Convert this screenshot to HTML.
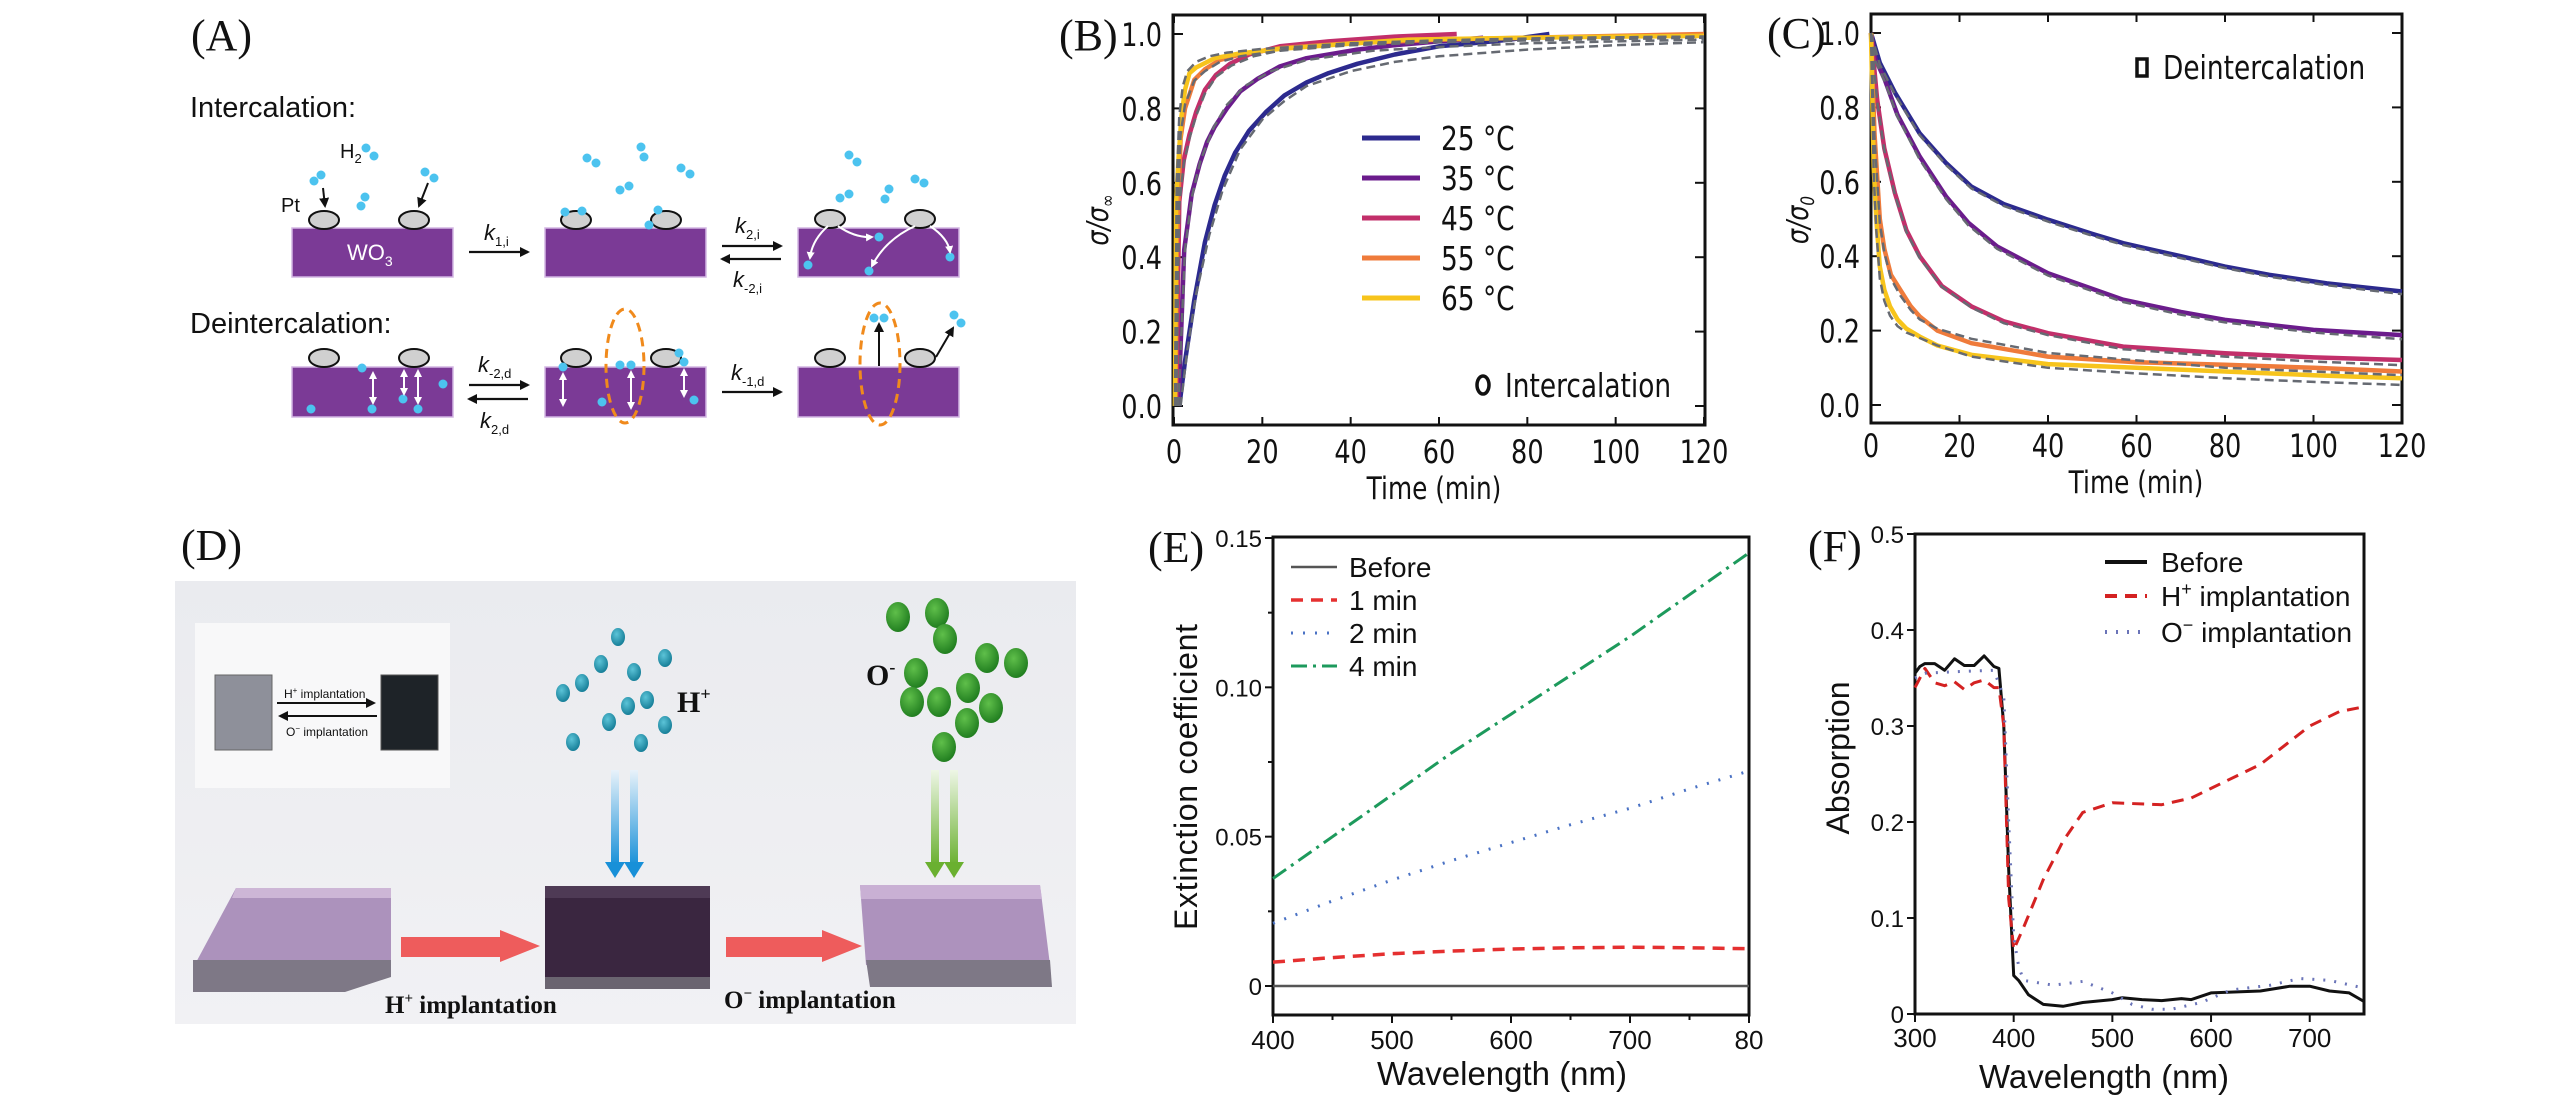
<!DOCTYPE html>
<html><head><meta charset="utf-8"><title>WO3 hydrogen intercalation figure</title>
<style>
html,body{margin:0;padding:0;background:#fff;}
svg{display:block;}
.lbl{font-family:"Liberation Serif",serif;font-size:44px;fill:#111;}
.sans{font-family:"Liberation Sans",sans-serif;}
.dv{font-family:"DejaVu Sans","Liberation Sans",sans-serif;}
</style></head>
<body>
<svg id="fig" width="2567" height="1102" viewBox="0 0 2567 1102" xmlns="http://www.w3.org/2000/svg">
<defs>
<linearGradient id="dbg" x1="0" y1="0" x2="0" y2="1"><stop offset="0" stop-color="#eaebef"/><stop offset="1" stop-color="#f1f1f4"/></linearGradient>
<linearGradient id="barrow" x1="0" y1="0" x2="0" y2="1"><stop offset="0" stop-color="#e8f2fa"/><stop offset="1" stop-color="#1890d8"/></linearGradient>
<linearGradient id="garrow" x1="0" y1="0" x2="0" y2="1"><stop offset="0" stop-color="#eef6e6"/><stop offset="1" stop-color="#6ab030"/></linearGradient>
<radialGradient id="tdot" cx="0.4" cy="0.35" r="0.7"><stop offset="0" stop-color="#5cc4d8"/><stop offset="1" stop-color="#127a94"/></radialGradient>
<radialGradient id="gdot" cx="0.4" cy="0.35" r="0.7"><stop offset="0" stop-color="#5fbf4a"/><stop offset="1" stop-color="#1d7a1d"/></radialGradient>
<marker id="ah" markerWidth="10" markerHeight="10" refX="8" refY="5" orient="auto" markerUnits="userSpaceOnUse"><path d="M0,0 L10,5 L0,10 Z" fill="#111"/></marker>
<marker id="aw" markerWidth="8" markerHeight="8" refX="6" refY="4" orient="auto-start-reverse" markerUnits="userSpaceOnUse"><path d="M0,0 L8,4 L0,8 Z" fill="#fff"/></marker>
</defs>

<!-- ================= PANEL A ================= -->
<g>
<text class="lbl" x="191" y="50">(A)</text>
<text class="sans" x="190" y="117" font-size="29" fill="#111">Intercalation:</text>
<text class="sans" x="190" y="333" font-size="29" fill="#111">Deintercalation:</text>
<g fill="#7b3a96" stroke="#d3b6e3" stroke-width="1.5">
<rect x="292" y="228" width="161" height="49"/><rect x="545" y="228" width="161" height="49"/><rect x="798" y="228" width="161" height="49"/>
<rect x="292" y="367" width="161" height="50"/><rect x="545" y="367" width="161" height="50"/><rect x="798" y="367" width="161" height="50"/>
</g>
<text class="sans" x="347" y="260" font-size="22" fill="#fff">WO<tspan font-size="14" dy="6">3</tspan></text>
<g fill="#d0d0d0" stroke="#111" stroke-width="2">
<ellipse cx="324" cy="220" rx="15" ry="9"/><ellipse cx="414" cy="220" rx="15" ry="9"/>
<ellipse cx="576" cy="220" rx="15" ry="9"/><ellipse cx="666" cy="220" rx="15" ry="9"/>
<ellipse cx="830" cy="219" rx="15" ry="9"/><ellipse cx="920" cy="219" rx="15" ry="9"/>
<ellipse cx="324" cy="358" rx="15" ry="9"/><ellipse cx="414" cy="358" rx="15" ry="9"/>
<ellipse cx="576" cy="358" rx="15" ry="9"/><ellipse cx="666" cy="358" rx="15" ry="9"/>
<ellipse cx="830" cy="358" rx="15" ry="9"/><ellipse cx="920" cy="358" rx="15" ry="9"/>
</g>
<text class="sans" x="281" y="212" font-size="20" fill="#111">Pt</text>
<text class="sans" x="340" y="158" font-size="20" fill="#111">H<tspan font-size="13" dy="5">2</tspan></text>
<g fill="#4cc3ef">
<circle cx="366" cy="148" r="4.5"/><circle cx="374" cy="156" r="4.5"/>
<circle cx="314" cy="181" r="4.5"/><circle cx="321" cy="175" r="4.5"/>
<circle cx="425" cy="172" r="4.5"/><circle cx="434" cy="178" r="4.5"/>
<circle cx="361" cy="206" r="4.5"/><circle cx="365" cy="197" r="4.5"/>
<circle cx="587" cy="158" r="4.5"/><circle cx="596" cy="163" r="4.5"/>
<circle cx="641" cy="147" r="4.5"/><circle cx="644" cy="157" r="4.5"/>
<circle cx="681" cy="168" r="4.5"/><circle cx="690" cy="174" r="4.5"/>
<circle cx="620" cy="190" r="4.5"/><circle cx="629" cy="186" r="4.5"/>
<circle cx="565" cy="212" r="4.5"/><circle cx="582" cy="211" r="4.5"/>
<circle cx="658" cy="210" r="4.5"/><circle cx="649" cy="225" r="4.5"/>
<circle cx="849" cy="155" r="4.5"/><circle cx="857" cy="162" r="4.5"/>
<circle cx="840" cy="198" r="4.5"/><circle cx="849" cy="194" r="4.5"/>
<circle cx="885" cy="199" r="4.5"/><circle cx="889" cy="189" r="4.5"/>
<circle cx="915" cy="179" r="4.5"/><circle cx="924" cy="183" r="4.5"/>
<circle cx="808" cy="265" r="4.5"/><circle cx="869" cy="271" r="4.5"/><circle cx="879" cy="237" r="4.5"/><circle cx="950" cy="257" r="4.5"/>
<circle cx="362" cy="368" r="4.5"/><circle cx="443" cy="384" r="4.5"/><circle cx="311" cy="409" r="4.5"/><circle cx="372" cy="409" r="4.5"/><circle cx="403" cy="399" r="4.5"/><circle cx="418" cy="409" r="4.5"/>
<circle cx="563" cy="367" r="4.5"/><circle cx="620" cy="365" r="4.5"/><circle cx="631" cy="365" r="4.5"/><circle cx="602" cy="402" r="4.5"/><circle cx="679" cy="353" r="4.5"/><circle cx="684" cy="362" r="4.5"/><circle cx="694" cy="400" r="4.5"/>
<circle cx="874" cy="318" r="4.5"/><circle cx="884" cy="318" r="4.5"/><circle cx="954" cy="315" r="4.5"/><circle cx="961" cy="323" r="4.5"/>
</g>
<g stroke="#111" stroke-width="2" fill="none">
<line x1="323" y1="188" x2="325" y2="206" marker-end="url(#ah)"/>
<line x1="428" y1="183" x2="419" y2="206" marker-end="url(#ah)"/>
<line x1="879" y1="366" x2="879" y2="324" marker-end="url(#ah)"/>
<line x1="936" y1="357" x2="953" y2="328" marker-end="url(#ah)"/>
</g>
<g stroke="#fff" stroke-width="2" fill="none">
<path d="M828,226 Q812,240 810,258" marker-end="url(#aw)"/>
<path d="M838,226 Q855,238 872,237" marker-end="url(#aw)"/>
<path d="M915,226 Q885,240 872,266" marker-end="url(#aw)"/>
<path d="M930,226 Q948,238 950,252" marker-end="url(#aw)"/>
<line x1="373" y1="373" x2="373" y2="403" marker-start="url(#aw)" marker-end="url(#aw)"/>
<line x1="404" y1="371" x2="404" y2="394" marker-start="url(#aw)" marker-end="url(#aw)"/>
<line x1="418" y1="371" x2="418" y2="403" marker-start="url(#aw)" marker-end="url(#aw)"/>
<line x1="563" y1="374" x2="563" y2="405" marker-start="url(#aw)" marker-end="url(#aw)"/>
<line x1="631" y1="372" x2="631" y2="408" marker-start="url(#aw)" marker-end="url(#aw)"/>
<line x1="684" y1="370" x2="684" y2="396" marker-start="url(#aw)" marker-end="url(#aw)"/>
</g>
<g fill="none" stroke="#f08a1c" stroke-width="3" stroke-dasharray="9,6">
<ellipse cx="625" cy="366" rx="19" ry="57"/><ellipse cx="880" cy="364" rx="20" ry="61"/>
</g>
<g stroke="#111" stroke-width="2.2">
<line x1="469" y1="252" x2="528" y2="252" marker-end="url(#ah)"/>
<line x1="722" y1="246" x2="781" y2="246" marker-end="url(#ah)"/>
<line x1="781" y1="259" x2="722" y2="259" marker-end="url(#ah)"/>
<line x1="469" y1="385" x2="528" y2="385" marker-end="url(#ah)"/>
<line x1="528" y1="399" x2="469" y2="399" marker-end="url(#ah)"/>
<line x1="722" y1="392" x2="781" y2="392" marker-end="url(#ah)"/>
</g>
<g class="sans" fill="#111" font-size="22" font-style="italic">
<text x="484" y="240">k<tspan font-size="13" font-style="normal" dy="6">1,i</tspan></text>
<text x="735" y="233">k<tspan font-size="13" font-style="normal" dy="6">2,i</tspan></text>
<text x="733" y="287">k<tspan font-size="13" font-style="normal" dy="6">-2,i</tspan></text>
<text x="478" y="372">k<tspan font-size="13" font-style="normal" dy="6">-2,d</tspan></text>
<text x="480" y="428">k<tspan font-size="13" font-style="normal" dy="6">2,d</tspan></text>
<text x="731" y="380">k<tspan font-size="13" font-style="normal" dy="6">-1,d</tspan></text>
</g>
</g>

<!-- ================= PANEL D ================= -->
<g>
<text class="lbl" x="181" y="560">(D)</text>
<rect x="175" y="581" width="901" height="443" fill="url(#dbg)"/>
<rect x="195" y="623" width="255" height="165" fill="#f8f8f9"/>
<rect x="215" y="675" width="57" height="75" fill="#8e909a" stroke="#666"/>
<rect x="381" y="675" width="57" height="75" fill="#1e2328" stroke="#555"/>
<line x1="277" y1="703" x2="374" y2="703" stroke="#111" stroke-width="2" marker-end="url(#ah)"/>
<line x1="377" y1="716" x2="280" y2="716" stroke="#111" stroke-width="2" marker-end="url(#ah)"/>
<text class="sans" x="284" y="698" font-size="12" fill="#111">H<tspan font-size="8" dy="-5">+</tspan><tspan dy="5"> implantation</tspan></text>
<text class="sans" x="286" y="736" font-size="12" fill="#111">O<tspan font-size="8" dy="-5">−</tspan><tspan dy="5"> implantation</tspan></text>
<g fill="url(#tdot)">
<ellipse cx="618" cy="637" rx="7" ry="9"/><ellipse cx="601" cy="664" rx="7" ry="9"/><ellipse cx="665" cy="658" rx="7" ry="9"/><ellipse cx="634" cy="672" rx="7" ry="9"/><ellipse cx="582" cy="683" rx="7" ry="9"/><ellipse cx="563" cy="693" rx="7" ry="9"/><ellipse cx="647" cy="700" rx="7" ry="9"/><ellipse cx="628" cy="706" rx="7" ry="9"/><ellipse cx="609" cy="722" rx="7" ry="9"/><ellipse cx="665" cy="725" rx="7" ry="9"/><ellipse cx="573" cy="742" rx="7" ry="9"/><ellipse cx="641" cy="743" rx="7" ry="9"/>
</g>
<text x="677" y="712" font-family="Liberation Serif,serif" font-weight="bold" font-size="30" fill="#111">H<tspan font-size="18" dy="-12">+</tspan></text>
<g fill="url(#gdot)">
<ellipse cx="898" cy="617" rx="12" ry="15"/><ellipse cx="937" cy="613" rx="12" ry="15"/><ellipse cx="945" cy="639" rx="12" ry="15"/><ellipse cx="987" cy="658" rx="12" ry="15"/><ellipse cx="1016" cy="663" rx="12" ry="15"/><ellipse cx="916" cy="673" rx="12" ry="15"/><ellipse cx="968" cy="688" rx="12" ry="15"/><ellipse cx="912" cy="702" rx="12" ry="15"/><ellipse cx="939" cy="702" rx="12" ry="15"/><ellipse cx="991" cy="708" rx="12" ry="15"/><ellipse cx="967" cy="723" rx="12" ry="15"/><ellipse cx="944" cy="747" rx="12" ry="15"/>
</g>
<text x="866" y="685" font-family="Liberation Serif,serif" font-weight="bold" font-size="30" fill="#111">O<tspan font-size="18" dy="-12">-</tspan></text>
<g>
<rect x="611" y="770" width="8" height="95" fill="url(#barrow)"/><rect x="630" y="770" width="8" height="95" fill="url(#barrow)"/>
<path d="M605,862 L625,862 L615,878 Z M624,862 L644,862 L634,878 Z" fill="#1890d8"/>
</g>
<g>
<rect x="931" y="770" width="8" height="95" fill="url(#garrow)"/><rect x="950" y="770" width="8" height="95" fill="url(#garrow)"/>
<path d="M925,862 L945,862 L935,878 Z M944,862 L964,862 L954,878 Z" fill="#6ab030"/>
</g>
<g>
<polygon points="236,888 391,888 391,968 193,968" fill="#ac92bc"/>
<polygon points="236,888 391,888 391,898 232,898" fill="#cdb6d6"/>
<polygon points="193,960 391,960 391,977 345,992 193,992" fill="#7e7886"/>
</g>
<g>
<rect x="545" y="886" width="165" height="91" fill="#3a2640"/>
<rect x="545" y="886" width="165" height="12" fill="#4e3a55"/>
<rect x="545" y="977" width="165" height="12" fill="#6a6470"/>
</g>
<g>
<polygon points="860,885 1040,885 1050,965 866,965" fill="#ad92bd"/>
<polygon points="860,885 1040,885 1042,899 861,899" fill="#c9b0d4"/>
<polygon points="866,960 1050,960 1052,987 870,987" fill="#7e7886"/>
</g>
<g fill="#ee5c5c">
<polygon points="401,937 500,937 500,930 540,946 500,962 500,957 401,957"/>
<polygon points="726,937 822,937 822,930 862,946 822,962 822,957 726,957"/>
</g>
<text x="385" y="1013" font-family="Liberation Serif,serif" font-weight="bold" font-size="25" fill="#111">H<tspan font-size="15" dy="-10">+</tspan><tspan dy="10"> implantation</tspan></text>
<text x="724" y="1008" font-family="Liberation Serif,serif" font-weight="bold" font-size="25" fill="#111">O<tspan font-size="15" dy="-10">−</tspan><tspan dy="10"> implantation</tspan></text>
</g>

<text class="lbl" x="1059" y="50">(B)</text>
<text class="lbl" x="1767" y="48">(C)</text>
<text class="lbl" x="1148" y="562">(E)</text>
<text class="lbl" x="1808" y="561">(F)</text>

<g id="chartB"></g>
<g id="chartC"></g>
<g id="chartE"></g>
<g id="chartF"></g>
</svg>

<script>
// ---------- Panel B data (intercalation) ----------
const tempLabels = ["25 °C","35 °C","45 °C","55 °C","65 °C"];
const b25_t = [1.2,2.5,4.6,7,9.2,11.5,13.8,17,20.8,25,30,35,41.5,50,60,70,76,85];
const b25_y = [0,0.12,0.285,0.44,0.54,0.62,0.68,0.74,0.79,0.835,0.87,0.895,0.92,0.945,0.967,0.978,0.985,1.0];
const b35_t = [1,2.3,4,5.8,7.5,9.2,12,15,19,24,30,41.5,50,60,70];
const b35_y = [0,0.42,0.57,0.65,0.71,0.75,0.80,0.846,0.88,0.913,0.935,0.958,0.97,0.98,0.99];
const b45_t = [0.5,1.2,2.2,3.5,5,7,9.5,12.7,17,24,35,50,64];
const b45_y = [0,0.55,0.66,0.73,0.79,0.85,0.89,0.92,0.945,0.967,0.98,0.993,1.0];
const b55_t = [0.3,0.7,1.5,2.5,4.6,7,10.4,15,24,40,60,80,100,120];
const b55_y = [0,0.45,0.72,0.80,0.877,0.905,0.93,0.945,0.962,0.975,0.985,0.99,0.995,1.0];
const b65_t = [0.2,0.5,1,1.7,2.5,3.5,5,9.2,15,24,35,53,80,100,120];
const b65_y = [0,0.55,0.66,0.78,0.85,0.895,0.91,0.935,0.948,0.96,0.97,0.985,0.99,0.993,0.995];
const bf25_t = [1.5,3,5,8,11,15,20,25,30,40,50,60,80,100,120];
const bf25_y = [0,0.15,0.3,0.46,0.58,0.69,0.77,0.82,0.86,0.90,0.925,0.94,0.958,0.97,0.978];
const bf35_t = [1,2.5,4,6,9,12,16,22,30,45,60,80,100,120];
const bf35_y = [0,0.42,0.56,0.66,0.75,0.81,0.86,0.9,0.93,0.955,0.965,0.975,0.98,0.985];
const bf45_t = [0.5,1.2,2.2,3.5,5,7,9.5,13,18,25,40,60,90,120];
const bf45_y = [0,0.54,0.65,0.72,0.78,0.84,0.885,0.915,0.94,0.958,0.972,0.982,0.99,0.993];
const bf55_t = [0.3,0.8,1.5,2.5,4.6,7,10.4,15,24,40,60,90,120];
const bf55_y = [0,0.5,0.73,0.81,0.875,0.9,0.925,0.94,0.955,0.97,0.978,0.985,0.99];
const bf65_t = [0.2,0.6,1.2,2,3,5,8,12,20,40,60,90,120];
const bf65_y = [0,0.6,0.78,0.86,0.9,0.925,0.94,0.95,0.96,0.975,0.983,0.99,0.993];
const bTicksX = [0,20,40,60,80,100,120];
const bTicksY = [0,0.2,0.4,0.6,0.8,1.0];

// ---------- Panel C data (deintercalation) ----------
const c25_t = [0,2,5.4,11,17,22.7,30,40,50,57,70,80,90,103,120];
const c25_y = [1.0,0.92,0.84,0.73,0.65,0.587,0.54,0.498,0.46,0.435,0.40,0.372,0.35,0.327,0.305];
const c35_t = [0,1,3.1,6,11,17,22,28.5,40,57,70,80,100,120];
const c35_y = [1.0,0.93,0.875,0.78,0.668,0.56,0.49,0.426,0.354,0.283,0.25,0.229,0.202,0.188];
const c45_t = [0,1.4,3,5.4,8,11,16,22.7,30,40,57,80,100,120];
const c45_y = [1.0,0.82,0.69,0.57,0.47,0.40,0.32,0.265,0.225,0.193,0.157,0.139,0.128,0.121];
const c55_t = [0,0.8,2,3,4.5,6.6,9,11,15,22.7,40,60,80,100,120];
const c55_y = [1.0,0.73,0.5,0.42,0.35,0.31,0.265,0.238,0.2,0.166,0.13,0.115,0.108,0.1,0.09];
const c65_t = [0,0.6,1.2,2,3,4.3,6,8,11,15,22.7,40,60,80,100,120];
const c65_y = [1.0,0.64,0.5,0.372,0.31,0.265,0.23,0.205,0.184,0.16,0.135,0.11,0.1,0.09,0.08,0.072];
const cf25_y = [1.0,0.915,0.835,0.725,0.645,0.582,0.535,0.493,0.455,0.43,0.395,0.368,0.345,0.322,0.298];
const cf35_y = [1.0,0.925,0.87,0.775,0.66,0.553,0.483,0.42,0.348,0.277,0.243,0.222,0.195,0.177];
const cf45_y = [1.0,0.815,0.685,0.565,0.465,0.395,0.318,0.262,0.22,0.188,0.15,0.13,0.117,0.107];
const cf55_y = [1.0,0.72,0.49,0.41,0.34,0.295,0.255,0.23,0.205,0.178,0.14,0.12,0.1,0.09,0.08];
const cf65_y = [1.0,0.62,0.47,0.34,0.28,0.24,0.212,0.195,0.18,0.16,0.13,0.1,0.085,0.072,0.062,0.054];
const cTicksX = [0,20,40,60,80,100,120];
const cTicksY = [0,0.2,0.4,0.6,0.8,1.0];

// ---------- Panel E data ----------
const eWl = [400,450,500,550,600,650,700,750,800];
const eBefore = [0,0,0,0,0,0,0,0,0];
const e1min = [0.008,0.0095,0.0108,0.0117,0.0124,0.0128,0.013,0.0128,0.0125];
const e2min = [0.021,0.0285,0.0355,0.042,0.048,0.054,0.0595,0.066,0.072];
const e4min = [0.036,0.05,0.064,0.078,0.091,0.104,0.117,0.131,0.145];
const eTicksX = [400,500,600,700,800];
const eMinorX = [450,550,650,750];
const eTickLabelsX = ["400","500","600","700","80"];
const eTicksY = [0,0.05,0.10,0.15];
const eMinorY = [0.025,0.075,0.125];
const eTickLabelsY = ["0","0.05","0.10","0.15"];
const eLegend = ["Before","1 min","2 min","4 min"];

// ---------- Panel F data ----------
const fBefore_w = [300,305,310,320,330,340,350,360,370,380,385,390,395,400,405,415,430,450,470,500,510,530,550,570,580,600,650,680,700,720,740,755];
const fBefore_y = [0.355,0.362,0.365,0.365,0.358,0.37,0.363,0.363,0.373,0.362,0.36,0.30,0.15,0.04,0.035,0.02,0.01,0.008,0.012,0.015,0.017,0.015,0.014,0.016,0.015,0.022,0.024,0.029,0.029,0.024,0.022,0.013];
const fH_w = [300,310,320,330,340,350,360,370,380,385,390,395,400,410,430,450,470,500,550,580,600,650,700,730,755];
const fH_y = [0.34,0.36,0.345,0.342,0.346,0.338,0.345,0.348,0.34,0.34,0.30,0.12,0.067,0.09,0.14,0.18,0.21,0.22,0.218,0.225,0.235,0.26,0.30,0.315,0.32];
const fO_w = [300,310,350,380,390,395,400,405,410,440,470,500,520,540,560,590,620,660,690,720,755];
const fO_y = [0.35,0.355,0.357,0.358,0.33,0.2,0.08,0.05,0.035,0.03,0.034,0.022,0.01,0.005,0.005,0.012,0.025,0.03,0.037,0.035,0.027];
const fTicksX = [300,400,500,600,700];
const fTicksY = [0,0.1,0.2,0.3,0.4,0.5];
const fTickLabelsY = ["0","0.1","0.2","0.3","0.4","0.5"];
const fLegendMain = ["Before","H","O"];
const fLegendSup = ["","+","−"];
const fLegendTail = [""," implantation"," implantation"];

const NS = "http://www.w3.org/2000/svg";
function mk(parent, tag, attrs) {
  const el = document.createElementNS(NS, tag);
  for (const k in attrs) el.setAttribute(k, attrs[k]);
  parent.appendChild(el);
  return el;
}
function ctext(parent, x, y, size, anchor, rot) {
  const tr = "translate(" + x + "," + y + ")" + (rot ? " rotate(-90)" : "") + " scale(0.8,1)";
  return mk(parent, "text", {x:0, y:0, transform:tr, "text-anchor":anchor, "font-size":size, class:"dv", fill:"#111"});
}
function lin(d0, d1, p0, p1) { return v => p0 + (v - d0) * (p1 - p0) / (d1 - d0); }
function pathD(xs, ys, X, Y) {
  return xs.map((x, i) => (i ? "L" : "M") + X(x).toFixed(1) + "," + Y(ys[i]).toFixed(1)).join(" ");
}
const tempColors = ["#2c2a8e","#6b1c8c","#c22f6a","#ef7b3b","#f7c41c"];

function timeChart(g, X, Y, fx0, fy0, fx1, fy1, ticksX, ticksY, tag, tickLabelY, labelX) {
  const fr = mk(g, "rect", {x:fx0, y:fy0, width:fx1-fx0, height:fy1-fy0, fill:"none", stroke:"#111", "stroke-width":3});
  
  
  ticksX.forEach(v => {
    const t1 = mk(g, "line", {x1:X(v), x2:X(v), y1:fy1, y2:fy1-8, stroke:"#111", "stroke-width":2});
    
    
    const t2 = mk(g, "line", {x1:X(v), x2:X(v), y1:fy0, y2:fy0+8, stroke:"#111", "stroke-width":2});
    
    
    const tl = ctext(g, X(v), tickLabelY, 32, "middle", false);
    tl.textContent = String(v);
    
    
  });
  ticksY.forEach(v => {
    const t1 = mk(g, "line", {x1:fx0, x2:fx0+10, y1:Y(v), y2:Y(v), stroke:"#111", "stroke-width":2});
    
    
    const t2 = mk(g, "line", {x1:fx1, x2:fx1-10, y1:Y(v), y2:Y(v), stroke:"#111", "stroke-width":2});
    
    
    const tl = ctext(g, labelX, Y(v)+12, 32, "end", false);
    tl.textContent = v.toFixed(1);
    
    
  });
}

// ===== Chart B =====
(function(){
  const g = document.getElementById("chartB");
  const X = lin(0, 120, 1174, 1704), Y = lin(0, 1, 406, 34);
  timeChart(g, X, Y, 1173, 15, 1705, 425, bTicksX, bTicksY, "b", 463, 1162);
  const ts = [b25_t,b35_t,b45_t,b55_t,b65_t], ys = [b25_y,b35_y,b45_y,b55_y,b65_y];
  const fts = [bf25_t,bf35_t,bf45_t,bf55_t,bf65_t], fys = [bf25_y,bf35_y,bf45_y,bf55_y,bf65_y];
  ts.forEach((t, i) => {
    const p = mk(g, "path", {d:pathD(t, ys[i], X, Y), fill:"none", stroke:tempColors[i], "stroke-width":4.5, "stroke-linejoin":"round"});
    
    
  });
  fts.forEach((t, i) => {
    const p = mk(g, "path", {d:pathD(t, fys[i], X, Y), fill:"none", stroke:"#666a72", "stroke-width":2.5, "stroke-dasharray":"9,5"});
    
    
  });
  tempLabels.forEach((lab, i) => {
    const yy = 138 + i * 40;
    const l = mk(g, "line", {x1:1362, x2:1420, y1:yy, y2:yy, stroke:tempColors[i], "stroke-width":5});
    
    
    const tx = ctext(g, 1441, yy+12, 33, "start", false);
    tx.textContent = lab;
    
    
  });
  const mkc = mk(g, "ellipse", {cx:1483, cy:385, rx:6, ry:9, fill:"none", stroke:"#111", "stroke-width":3.5});
  
  
  const it = ctext(g, 1505, 397, 33, "start", false);
  it.textContent = "Intercalation";
  
  
  const xl = ctext(g, 1434, 499, 31, "middle", false);
  xl.textContent = "Time (min)";
  
  
  const yl = ctext(g, 1108, 220, 30, "middle", true);
  yl.setAttribute("font-style", "italic");
  yl.innerHTML = 'σ/σ<tspan font-size="19" dy="6">∞</tspan>';
  
  
})();

// ===== Chart C =====
(function(){
  const g = document.getElementById("chartC");
  const X = lin(0, 120, 1871, 2402), Y = lin(0, 1, 405, 33);
  timeChart(g, X, Y, 1871, 14, 2402, 423, cTicksX, cTicksY, "c", 457, 1860);
  const ts = [c25_t,c35_t,c45_t,c55_t,c65_t], ys = [c25_y,c35_y,c45_y,c55_y,c65_y];
  const fys = [cf25_y,cf35_y,cf45_y,cf55_y,cf65_y];
  ts.forEach((t, i) => {
    const p = mk(g, "path", {d:pathD(t, ys[i], X, Y), fill:"none", stroke:tempColors[i], "stroke-width":4.5, "stroke-linejoin":"round"});
    
    
  });
  ts.forEach((t, i) => {
    const p = mk(g, "path", {d:pathD(t, fys[i], X, Y), fill:"none", stroke:"#666a72", "stroke-width":2.5, "stroke-dasharray":"9,5"});
    
    
  });
  const sq = mk(g, "rect", {x:2137, y:59, width:10, height:17, fill:"none", stroke:"#111", "stroke-width":3.5});
  
  
  const dt = ctext(g, 2163, 79, 33, "start", false);
  dt.textContent = "Deintercalation";
  
  
  const xl = ctext(g, 2136, 493, 31, "middle", false);
  xl.textContent = "Time (min)";
  
  
  const yl = ctext(g, 1808, 220, 30, "middle", true);
  yl.setAttribute("font-style", "italic");
  yl.innerHTML = 'σ/σ<tspan font-size="19" dy="6">0</tspan>';
  
  
})();

// ===== Chart E =====
(function(){
  const g = document.getElementById("chartE");
  const X = lin(400, 800, 1273, 1749), Y = lin(0, 0.15, 986, 538);
  const fr = mk(g, "rect", {x:1273, y:537, width:476, height:478, fill:"none", stroke:"#111", "stroke-width":3});
  
  
  eTicksX.forEach((v, i) => {
    const t1 = mk(g, "line", {x1:X(v), x2:X(v), y1:1015, y2:1023, stroke:"#111", "stroke-width":2});
    
    
    const tl = mk(g, "text", {x:X(v), y:1049, "text-anchor":"middle", "font-size":26, class:"sans", fill:"#111"});
    tl.textContent = eTickLabelsX[i];
    
    
  });
  eMinorX.forEach(v => {
    const t1 = mk(g, "line", {x1:X(v), x2:X(v), y1:1015, y2:1020, stroke:"#111", "stroke-width":2});
    
    
  });
  eMinorY.forEach(v => {
    const t1 = mk(g, "line", {x1:1273, x2:1268, y1:Y(v), y2:Y(v), stroke:"#111", "stroke-width":2});
    
    
  });
  eTicksY.forEach((v, i) => {
    const t1 = mk(g, "line", {x1:1273, x2:1265, y1:Y(v), y2:Y(v), stroke:"#111", "stroke-width":2});
    
    
    const tl = mk(g, "text", {x:1262, y:Y(v)+9, "text-anchor":"end", "font-size":24, class:"sans", fill:"#111"});
    tl.textContent = eTickLabelsY[i];
    
    
  });
  const series = [eBefore, e1min, e2min, e4min];
  const cols = ["#555","#e53030","#4a72c4","#1d9a5c"];
  const dashes = ["none","12,8","2,10","16,6,3,6"];
  const widths = [2.5,3.5,3,3];
  series.forEach((s, i) => {
    const p = mk(g, "path", {d:pathD(eWl, s, X, Y), fill:"none", stroke:cols[i], "stroke-width":widths[i], "stroke-dasharray":dashes[i]});
    
    
    const yy = 567 + i * 33;
    const l = mk(g, "line", {x1:1291, x2:1337, y1:yy, y2:yy, stroke:cols[i], "stroke-width":widths[i], "stroke-dasharray":dashes[i]});
    
    
    const tx = mk(g, "text", {x:1349, y:yy+10, "font-size":28, class:"sans", fill:"#111"});
    tx.textContent = eLegend[i];
    
    
  });
  const xl = mk(g, "text", {x:1502, y:1085, "text-anchor":"middle", "font-size":33, class:"sans", fill:"#111"});
  xl.textContent = "Wavelength (nm)";
  
  
  const yl = mk(g, "text", {x:0, y:0, "text-anchor":"middle", "font-size":32, class:"sans", fill:"#111", transform:"translate(1197,777) rotate(-90)", textLength:306});
  yl.textContent = "Extinction coefficient";
  
  
})();

// ===== Chart F =====
(function(){
  const g = document.getElementById("chartF");
  const X = lin(300, 755, 1915, 2364), Y = lin(0, 0.5, 1014, 534);
  const fr = mk(g, "rect", {x:1915, y:534, width:449, height:480, fill:"none", stroke:"#111", "stroke-width":3});
  
  
  fTicksX.forEach(v => {
    const t1 = mk(g, "line", {x1:X(v), x2:X(v), y1:1014, y2:1022, stroke:"#111", "stroke-width":2});
    
    
    const tl = mk(g, "text", {x:X(v), y:1047, "text-anchor":"middle", "font-size":26, class:"sans", fill:"#111"});
    tl.textContent = String(v);
    
    
  });
  fTicksY.forEach((v, i) => {
    const t1 = mk(g, "line", {x1:1915, x2:1907, y1:Y(v), y2:Y(v), stroke:"#111", "stroke-width":2});
    
    
    const tl = mk(g, "text", {x:1904, y:Y(v)+9, "text-anchor":"end", "font-size":24, class:"sans", fill:"#111"});
    tl.textContent = fTickLabelsY[i];
    
    
  });
  const ws = [fBefore_w, fH_w, fO_w], ys = [fBefore_y, fH_y, fO_y];
  const cols = ["#111","#d42222","#6a74b8"];
  const dashes = ["none","12,8","2,9"];
  ws.forEach((w, i) => {
    const p = mk(g, "path", {d:pathD(w, ys[i], X, Y), fill:"none", stroke:cols[i], "stroke-width":3, "stroke-dasharray":dashes[i], "stroke-linejoin":"round"});
    
    
  });
  const lys = [562, 596, 632];
  fLegendMain.forEach((lab, i) => {
    const l = mk(g, "line", {x1:2105, x2:2147, y1:lys[i], y2:lys[i], stroke:cols[i], "stroke-width":4, "stroke-dasharray":dashes[i]});
    
    
    const tx = mk(g, "text", {x:2161, y:lys[i]+10, "font-size":28, class:"sans", fill:"#111"});
    tx.textContent = lab;
    if (fLegendSup[i]) {
      const s = mk(tx, "tspan", {"font-size":18, dy:-11});
      s.textContent = fLegendSup[i];
      const r = mk(tx, "tspan", {dy:11});
      r.textContent = fLegendTail[i];
    }
    
    
  });
  const xl = mk(g, "text", {x:2104, y:1088, "text-anchor":"middle", "font-size":33, class:"sans", fill:"#111"});
  xl.textContent = "Wavelength (nm)";
  
  
  const yl = mk(g, "text", {x:0, y:0, "text-anchor":"middle", "font-size":32, class:"sans", fill:"#111", transform:"translate(1849,758) rotate(-90)"});
  yl.textContent = "Absorption";
  
  
})();
</script>
</body></html>
